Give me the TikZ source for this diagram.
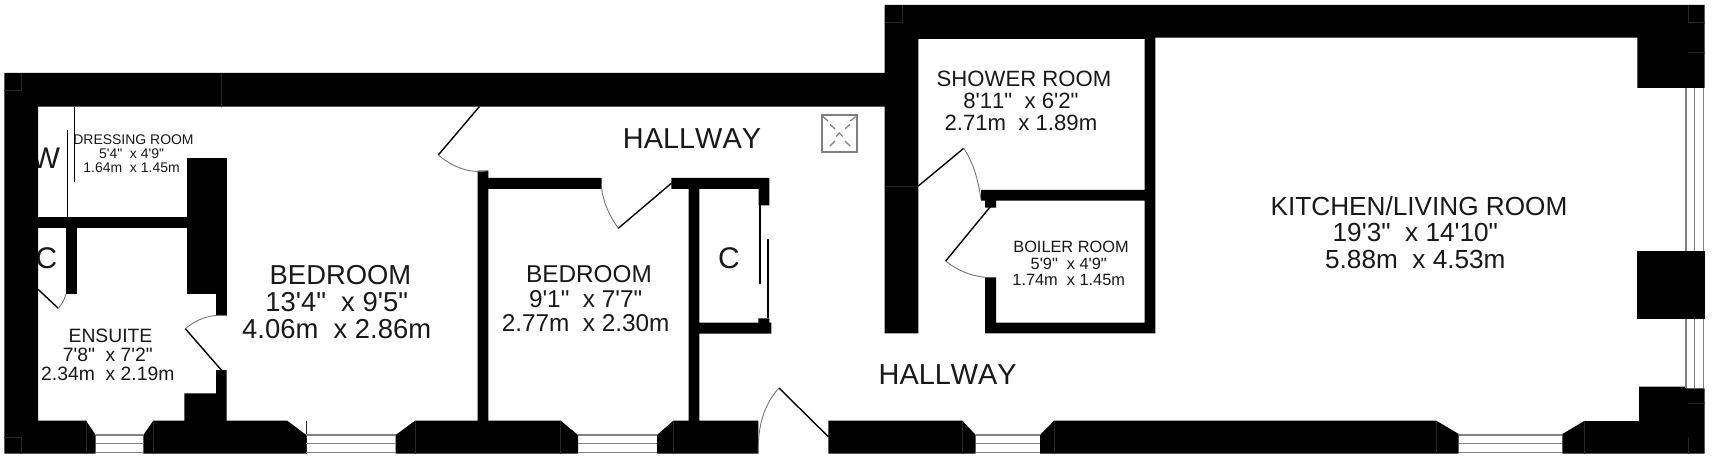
\documentclass[tikz,border=0pt]{standalone}
\usepackage{fontspec}
\usetikzlibrary{calc}
\newfontfamily\planfont[Kerning=Off]{Liberation Sans}
\newcommand{\lbl}[2]{\fontsize{#1}{#2}\selectfont\planfont}

\tikzset{
    wall/.style={fill=black},
    seam/.style={draw=black!85, line width=0.3pt},
    leaf/.style={black, line width=0.8pt},
    swing/.style={black!55, line width=0.5pt},
    pane/.style={black!50, line width=0.8pt},
    hatch/.style={black!50, line width=0.7pt},
    room/.style={align=center, inner sep=0pt, text=black!90}
}

\begin{document}
\begin{tikzpicture}[x=0.02cm, y=-0.02cm]
        \useasboundingbox (0,0) rectangle (1712,456);
        \fill[white] (0,0) rectangle (1712,456);

        % room names
        \node[room, font=\lbl{7.95}{7.8}] (dressing) at (133.5,153.7) {DRESSING ROOM\\5'4"~~x 4'9"~\mbox{}\\1.64m~~x 1.45m~\mbox{}};
        \node[room, font=\lbl{15.6}{15.5}] (bedroomA) at (340.5,302.3) {BEDROOM\\13'4"~~x 9'5"~\mbox{}\\4.06m~~x 2.86m~\mbox{}};
        \node[room, font=\lbl{11}{10.8}] (ensuite) at (110.5,355) {ENSUITE\\7'8"~~x 7'2"~\mbox{}\\2.34m~~x 2.19m~\mbox{}};
        \node[room, font=\lbl{13.85}{14}] (bedroomB) at (589,298.7) {BEDROOM\\9'1"~~x 7'7"~\mbox{}\\2.77m~~x 2.30m~\mbox{}};
        \node[room, font=\lbl{12.6}{12.7}] (shower) at (1024,101) {SHOWER ROOM\\8'11"~~x 6'2"~\mbox{}\\2.71m~~x 1.89m~\mbox{}};
        \node[room, font=\lbl{9.3}{9.2}] (boiler) at (1071,263.5) {BOILER ROOM\\5'9"~~x 4'9"~\mbox{}\\1.74m~~x 1.45m~\mbox{}};
        \node[room, font=\lbl{14.9}{15}] (kitchen) at (1419,232.5) {KITCHEN/LIVING ROOM\\19'3"~~x 14'10"~\mbox{}\\5.88m~~x 4.53m~\mbox{}};
        \node[room, font=\lbl{16.45}{16}] (hallA) at (692,138.3) {HALLWAY};
        \node[room, font=\lbl{16.45}{16}] (hallB) at (947.7,375) {HALLWAY};
        \node[room, font=\lbl{17}{17}] (cupA) at (729,258) {C};
        \node[room, font=\lbl{17}{17}] (cupB) at (46.5,258) {C};
        \node[room, font=\lbl{17}{17}] (wardrobe) at (46,158) {W};

        % outer wall with the shower room and boiler room
        \fill[wall] (4.3,73) -- (884.7,73) -- (884.7,5) -- (1704.7,5) -- (1704.7,88) -- (1637.3,88) -- (1637.3,37.7) -- (1155.3,37.7)
            -- (1155.3,333.3) -- (985,333.3) -- (985,277.3) -- (996,277.3) -- (996,322.7) -- (1144.7,322.7) -- (1144.7,200.7)
            -- (996,200.7) -- (996,207.7) -- (985,207.7) -- (985,200.7) -- (981,200.7) -- (981,190) -- (1144.7,190) -- (1144.7,39)
            -- (918.3,39) -- (918.3,333.3) -- (884.7,333.3) -- (884.7,106.7) -- (38,106.7) -- (38,420.7) -- (86,420.7)
            -- (95.7,435) -- (95.7,453.7) -- (4.3,453.7) -- cycle;
        % bottom wall, piece by piece between the windows
        \fill[wall] (143.3,453.7) -- (143.3,435) -- (153.3,420.7) -- (184.3,420.7) -- (184.3,393.3) -- (216,393.3) -- (216,370)
            -- (226.7,370) -- (226.7,420.7) -- (287.3,420.7) -- (306.3,435) -- (306.3,453.7) -- cycle;
        \fill[wall] (395.7,453.7) -- (395.7,435) -- (415,420.7) -- (477.7,420.7) -- (477.7,170.7) -- (488.3,170.7) -- (488.3,178)
            -- (601.7,178) -- (601.7,189) -- (488.3,189) -- (488.3,420.7) -- (560.7,420.7) -- (578,435) -- (578,453.7) -- cycle;
        \fill[wall] (657,453.7) -- (657,435) -- (673.3,420.7) -- (688.7,420.7) -- (688.7,189) -- (671.3,189) -- (671.3,178)
            -- (769.3,178) -- (769.3,205.3) -- (758.7,205.3) -- (758.7,189) -- (699.3,189) -- (699.3,322.7) -- (758.3,322.7)
            -- (758.3,318.3) -- (769.3,318.3) -- (769.3,322.7) -- (771.3,322.7) -- (771.3,333.7) -- (699.3,333.7) -- (699.3,420.7)
            -- (758.3,420.7) -- (758.3,453.7) -- cycle;
        \fill[wall] (828.3,453.7) -- (828.3,420.7) -- (962.3,420.7) -- (975.7,435) -- (975.7,453.7) -- cycle;
        \fill[wall] (1040,453.7) -- (1040,435) -- (1054,420.7) -- (1436.3,420.7) -- (1458.7,434) -- (1458.7,453.7) -- cycle;
        \fill[wall] (1562.3,453.7) -- (1562.3,434) -- (1584.3,421) -- (1639,421) -- (1639,386.7) -- (1686,386.7) -- (1686,388.3) -- (1704.7,388.3) -- (1704.7,453.7) -- cycle;
        % chimney breast and inner walls
        \fill[wall] (1637.3,250.7) rectangle (1705.3,319.3);
        \fill[wall] (187,158.3) rectangle (226.7,294.3);
        \fill[wall] (216,294) rectangle (226.7,315.7);
        \fill[wall] (38,216.7) rectangle (187,227.7);
        \fill[wall] (65.7,227) rectangle (76.7,294.3);

        % faint joints inside the black
        \draw[seam] (4.3,90) -- (21,90) -- (21,73);
        \draw[seam] (4.3,437) -- (21,437) -- (21,453.7);
        \draw[seam] (221,73) -- (221,106.7);
        \draw[seam] (884.7,22) -- (902,22) -- (902,5);
        \draw[seam] (884.7,186) -- (918.3,186);
        \draw[seam] (1688,5) -- (1688,22) -- (1704.7,22);
        \draw[seam] (1688,52) -- (1704.7,52);
        \draw[seam] (1688,437) -- (1688,453.7);
        \draw[seam] (1688,403) -- (1704.7,403);
        \foreach \xs in {86,153.3,306.3,415,560.7,673.3,962.3,1054,1436.3,1584.3} {
            \draw[seam] (\xs,420.7) -- (\xs,453.7);
        }

        % windows, three panes each
        \foreach \xa/\xb in {95.7/143.3,306.3/395.7,578/657,975.7/1040,1458.7/1562.3} {
            \foreach \wy in {435,443.5,452.7} {
                \draw[pane] (\xa,\wy) -- (\xb,\wy);
            }
        }
        \foreach \ya/\yb in {88/250.7,319.3/388.3} {
            \foreach \wx in {1686,1694.3,1703.3} {
                \draw[pane] (\wx,\ya) -- (\wx,\yb);
            }
        }

        % doors: hinge, leaf tip, bend of the swing, end of the swing
        \foreach \hx/\hy/\tx/\ty/\cx/\cy/\ex/\ey in {
            479.3/106.7/438.3/155/462/175/488.3/170.7,
            221.3/370/185.3/328.7/204/313/226.7/315.7,
            38/289.3/58.3/308.3/64/302/65.7/294.3,
            671.3/183.3/618.3/228.3/604/208/601.7/189,
            828.3/436.7/779/388/757/412/758.3/453.7,
            918.3/186/963.7/148.3/977/168/981/200,
            990.3/206.7/945.7/261/963/275/985/277.3} {
            \draw[leaf] (\hx,\hy) -- (\tx,\ty);
            \draw[swing] (\tx,\ty) .. controls ($(\tx,\ty)!0.667!(\cx,\cy)$) and ($(\ex,\ey)!0.667!(\cx,\cy)$) .. (\ex,\ey);
        }

        % sliding doors
        \draw[leaf] (74.7,106.7) -- (74.7,182.3);
        \draw[leaf] (67.3,130) -- (67.3,216.7);
        \draw[leaf] (760,205.3) -- (760,284);
        \draw[leaf] (768,239.3) -- (768,318.3);

        % roof hatch
        \draw[hatch, line width=1pt] (822,115.3) rectangle (856.7,151.7);
        \draw[hatch] (823,116.5) -- (828,121) (855.5,116.5) -- (850.5,121);
        \draw[hatch] (830,124.3) -- (835,129) (850,124.3) -- (845,129);
        \draw[hatch] (830,146) -- (835,141) (850,146) -- (845,141);
        \draw[hatch] (836,136.5) -- (839.3,133) -- (842.6,136.5);
\end{tikzpicture}
\end{document}
